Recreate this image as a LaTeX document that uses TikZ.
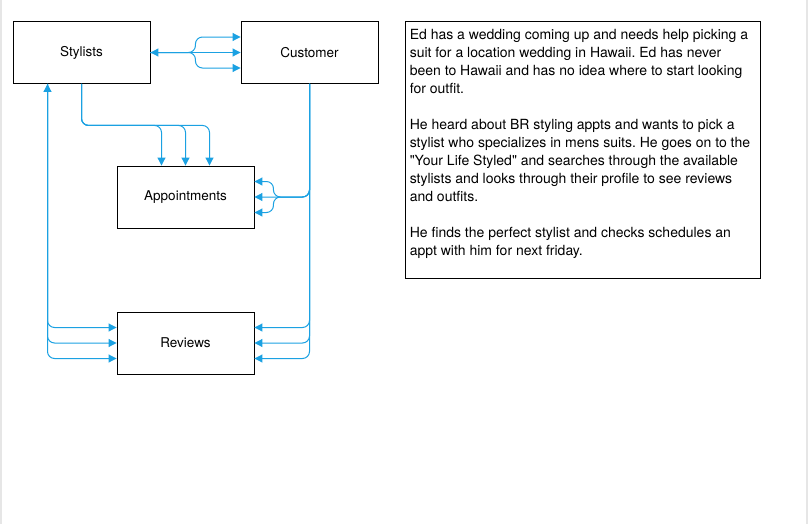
\documentclass[tikz,border=0pt]{standalone}
\usepackage{fontspec}
\setmainfont{TeX Gyre Heros}
\usepackage{xcolor}
\usetikzlibrary{arrows.meta}
\frenchspacing

\definecolor{flowblue}{HTML}{1BA1E2}
\definecolor{edgegray}{HTML}{E6E6E6}

\tikzset{
    box/.style={draw,line width=0.9bp,minimum width=137bp,minimum height=62bp,inner sep=0pt},
    flow/.style={flowblue,line width=1bp,rounded corners=7bp,>={Triangle[length=8bp,width=8bp]}},
}

\begin{document}
\begin{tikzpicture}[font=\fontsize{13.5bp}{17.7bp}\selectfont]

    \useasboundingbox (0bp,0bp) rectangle (808bp,-524bp);
    \fill [edgegray] (0bp,0bp) rectangle (2bp,-524bp);
    \fill [edgegray] (806bp,0bp) rectangle (808bp,-524bp);

    \node (stylists) at (81.5bp,-52.5bp)[box] {Stylists};
    \node (customer) at (309.5bp,-52.5bp)[box] {Customer};
    \node (appointments) at (185.5bp,-197bp)[box] {Appointments};
    \node (reviews) at (185.5bp,-343bp)[box] {Reviews};
    \node (story) at (582.75bp,-149.5bp)[box,minimum width=355.5bp,minimum height=257bp] {};
    \node (storytext) at ([xshift=5bp,yshift=-9bp]story.north west)[anchor=north west,inner sep=0pt,align=left,font=\fontsize{14bp}{18bp}\selectfont] {Ed has a wedding coming up and needs help picking a\\
suit for a location wedding in Hawaii. Ed has never\\
been to Hawaii and has no idea where to start looking\\
for outfit.\\[18bp]
He heard about BR styling appts and wants to pick a\\
stylist who specializes in mens suits. He goes on to the\\
\textquotedbl Your Life Styled\textquotedbl{} and searches through the available\\
stylists and looks through their profile to see reviews\\
and outfits.\\[18bp]
He finds the perfect stylist and checks schedules an\\
appt with him for next friday.};

    \draw [flow,<->] (stylists.east) -- (customer.west);
    \draw [flow,->] (stylists.east) -- ++(45bp,0) |- ([yshift=15.5bp]customer.west);
    \draw [flow,->] (stylists.east) -- ++(45bp,0) |- ([yshift=-15.5bp]customer.west);

    \foreach \dx in {-24,0,24}
        \draw [flow,->] (stylists.south) -- ++(0,-41.5bp) -| ([xshift=\dx bp]appointments.north);

    \draw [flow,->] (customer.south) |- (appointments.east);
    \foreach \dy in {15.5,-15.5}
        \draw [flow,->] (customer.south) |- ([xshift=19bp]appointments.east) |- ([yshift=\dy bp]appointments.east);

    \foreach \dy in {15.5,0,-15.5}
        \draw [flow,->] (customer.south) |- ([yshift=\dy bp]reviews.east);

    \draw [flow,<->] ([xshift=-34bp]stylists.south) |- ([yshift=-15.5bp]reviews.west);
    \foreach \dy in {15.5,0}
        \draw [flow,->] ([xshift=-34bp]stylists.south) |- ([yshift=\dy bp]reviews.west);
\end{tikzpicture}
\end{document}
